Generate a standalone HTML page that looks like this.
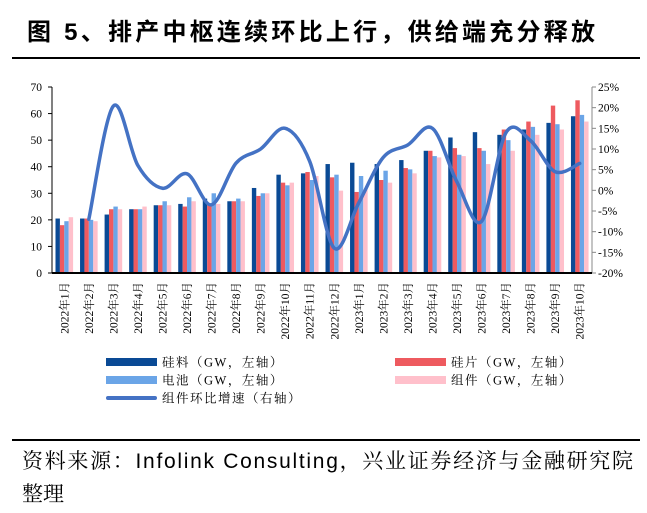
<!DOCTYPE html>
<html><head><meta charset="utf-8"><style>
body{margin:0;background:#fff;width:647px;height:513px;overflow:hidden;}
svg{display:block}
</style></head><body>
<svg id="s" width="647" height="513" xmlns="http://www.w3.org/2000/svg" font-family="'Liberation Serif','Noto Serif CJK SC',serif">
<text x="27" y="40" font-size="24" font-weight="bold" font-family="'Liberation Sans','Noto Sans CJK SC',sans-serif" textLength="568" lengthAdjust="spacing">图 5、排产中枢连续环比上行，供给端充分释放</text>
<line x1="12" y1="58" x2="640" y2="58" stroke="#000" stroke-width="2"/>
<line x1="12" y1="440" x2="640" y2="440" stroke="#000" stroke-width="2"/>
<text x="22" y="468" font-size="21" font-family="'Liberation Sans','Noto Serif CJK SC',sans-serif" textLength="611" lengthAdjust="spacing">资料来源：Infolink Consulting，兴业证券经济与金融研究院</text>
<text x="22" y="501" font-size="21" font-family="'Noto Serif CJK SC',serif">整理</text>
<g id="chart"></g>
</svg>
<script>
const g=document.getElementById('chart');let h='';
const x0=52,x1=592,yb=273,yt=87,n=22,gw=(x1-x0)/n;
const ly=v=>yb-(v/70)*(yb-yt), ry=p=>yt+(25-p)/45*(yb-yt);
const d=[[20.5,18,19.5,21],[20.5,20.5,20,19.5],[22,24,25,24],[24,24,24,25],[25.5,25.5,27,25.5],[26,25,28.5,27],[28,26,30,26],[27,27,28,27],[32,29,30,30],[37,34,33,34],[37.5,38,35,36.5],[41,36,37,31],[41.5,30.5,36.5,31.5],[41,35,38.5,34],[42.5,39.5,39,37.5],[46,46,44,43.5],[51,47,44.5,44],[53,47,46,41],[52,54,50,46],[54,57,55,52],[56.5,63,56,54],[59,65,59.5,57]];
const cols=['#0A4A95','#EE5A5F','#6BA5E7','#FFC0CB'];
d.forEach((r,i)=>r.forEach((v,j)=>{const x=x0+i*gw+3.5+j*4.4;h+=`<rect x="${x}" y="${ly(v)}" width="4.4" height="${yb-ly(v)}" fill="${cols[j]}"/>`;}));
h+=`<line x1="${x0}" y1="${yt}" x2="${x0}" y2="${yb}" stroke="#000" stroke-width="1"/>`;
h+=`<line x1="${x1}" y1="${yt}" x2="${x1}" y2="${yb}" stroke="#888" stroke-width="1"/>`;
for(let v=0;v<=70;v+=10){const y=ly(v);h+=`<line x1="${x0-4}" y1="${y}" x2="${x0}" y2="${y}" stroke="#000"/><text x="${x0-10}" y="${y+4}" font-size="11.5" text-anchor="end">${v}</text>`;}
for(let p=-20;p<=25;p+=5){const y=ry(p);h+=`<line x1="${x1}" y1="${y}" x2="${x1+4}" y2="${y}" stroke="#888"/><text x="${x1+6}" y="${y+4}" font-size="11.5">${p}%</text>`;}
h+=`<line x1="${x0}" y1="${yb}" x2="${x1}" y2="${yb}" stroke="#000" stroke-width="2"/>`;
for(let i=0;i<n;i++){const cx=x0+(i+0.5)*gw+4;const lab=i<12?`2022年${i+1}月`:`2023年${i-11}月`;h+=`<text transform="translate(${cx},${282}) rotate(-90)" font-size="11.5" text-anchor="end">${lab}</text>`;}
const p=[null,-7,20.4,6,0.5,4,-3.5,6.6,10,15,7,-14,-3,8,11,15,2,-7.5,14,12,4.5,6.5];
const pts=[];p.forEach((v,i)=>{if(v!==null)pts.push([x0+(i+0.5)*gw,ry(v)]);});
let path=`M${pts[0][0]},${pts[0][1]}`;
for(let i=0;i<pts.length-1;i++){const a=pts[Math.max(0,i-1)],b=pts[i],c=pts[i+1],e=pts[Math.min(pts.length-1,i+2)];
const c1=[b[0]+(c[0]-a[0])/6,b[1]+(c[1]-a[1])/6],c2=[c[0]-(e[0]-b[0])/6,c[1]-(e[1]-b[1])/6];
path+=` C${c1[0]},${c1[1]} ${c2[0]},${c2[1]} ${c[0]},${c[1]}`;}
h+=`<path d="${path}" fill="none" stroke="#4472C4" stroke-width="3.5" stroke-linecap="round"/>`;
const L=[[106,362,cols[0],'硅料（GW，左轴）',8],[395,362,cols[1],'硅片（GW，左轴）',8],[106,380,cols[2],'电池（GW，左轴）',8],[395,380,cols[3],'组件（GW，左轴）',8],[106,398,'#4472C4','组件环比增速（右轴）',4]];
L.forEach(([x,y,c,t,w])=>{h+=`<rect x="${x}" y="${y-w/2}" width="51" height="${w}" fill="${c}" rx="${w==4?2:0}"/><text x="${x+56}" y="${y+4.5}" font-size="12.5" letter-spacing="1.5">${t}</text>`;});
g.innerHTML=h;
</script>
</body></html>
